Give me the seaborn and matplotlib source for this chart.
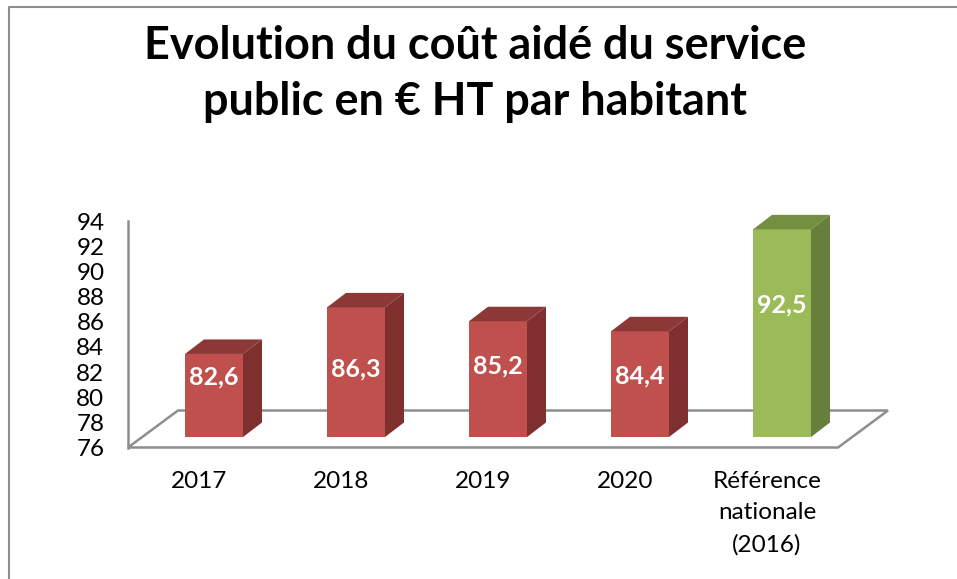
import matplotlib
matplotlib.use("Agg")
import matplotlib.pyplot as plt
import pandas as pd
import seaborn as sns
from matplotlib.patches import Polygon

# data
categories = ["2017", "2018", "2019", "2020", "Référence\nnationale\n(2016)"]
values = [82.6, 86.3, 85.2, 84.4, 92.5]
y_ticks = list(range(76, 96, 2))
title = "Evolution du coût aidé du service\npublic en € HT par habitant"

W, H = 957, 579
RED = ("#C0504D", "#7F2F2E", "#8B3836")
GREEN = ("#9BBB59", "#667F3A", "#758F42")
GREY = "#8E8E8E"

# the value labels do not sit at mid bar in the original, shift in pixels down from the middle
label_shift = [-19, -3, -13, -8, -28]


def px_axes(fig, left, bottom_y, right, top_y):
    # axes position given in image pixels
    return fig.add_axes([left / W, 1 - bottom_y / H, (right - left) / W, (bottom_y - top_y) / H])


sns.set_theme(style="white")
plt.rcParams["font.family"] = ["Lato", "DejaVu Sans"]

fig = plt.figure(figsize=(W / 100, H / 100), dpi=100, facecolor="white")

# frame of the picture, only top and left show
fig.add_artist(plt.Line2D([8.5 / W, 8.5 / W, 1], [0, 1 - 7 / H, 1 - 7 / H], color=GREY, lw=1.5))

# back axes: ticks, labels, wall line and floor
back = px_axes(fig, 128, 447.5, 838, 221)
back.set_xlim(-0.5, 4.5)
back.set_ylim(76, 94)
back.set_xticks(range(len(categories)), categories, linespacing=1.61)
back.set_yticks(y_ticks)
back.tick_params(axis="x", length=0, pad=17, labelsize=17.5, colors="black")
back.tick_params(axis="y", length=0, pad=17, labelsize=17.5, colors="black")
sns.despine(ax=back, top=True, right=True, bottom=True, left=False)
back.spines["left"].set_color(GREY)
back.spines["left"].set_linewidth(1.8)

px_x = 5 / 710
px_y = 18 / 226.5
floor_dx = 50 * px_x
floor_dy = 37 * px_y
back.add_patch(Polygon([(-0.5, 76), (4.5, 76), (4.5 + floor_dx, 76 + floor_dy), (-0.5 + floor_dx, 76 + floor_dy)],
                       closed=True, fill=False, edgecolor=GREY, lw=1.8, clip_on=False, joinstyle="miter"))

# front axes: same scales, shifted to the front of the floor
ax = px_axes(fig, 143, 437, 853, 210.5)
ax.patch.set_alpha(0)
df = pd.DataFrame({"cat": categories, "val": values})
colors = [RED[0]] * 4 + [GREEN[0]]
sns.barplot(data=df, x="cat", y="val", hue="cat", palette=colors, legend=False, width=58 / 142, saturation=1,
            linewidth=0, ax=ax)
ax.set_xlim(-0.5, 4.5)
ax.set_ylim(76, 94)
ax.axis("off")

dx = 19 * px_x
dy = 14.5 * px_y
for i, (bar, val) in enumerate(zip(ax.patches, values)):
    shades = GREEN if i == 4 else RED
    x0 = bar.get_x()
    x1 = x0 + bar.get_width()
    # side and top faces follow the bar
    ax.add_patch(Polygon([(x1, 76), (x1 + dx, 76 + dy), (x1 + dx, val + dy), (x1, val)],
                         closed=True, facecolor=shades[1], edgecolor="none", clip_on=False))
    ax.add_patch(Polygon([(x0, val), (x0 + dx, val + dy), (x1 + dx, val + dy), (x1, val)],
                         closed=True, facecolor=shades[2], edgecolor="none", clip_on=False))
    label = f"{val:.1f}".replace(".", ",")
    ax.text(i, (76 + val) / 2 - label_shift[i] * px_y, label, color="white", fontsize=18, fontweight="bold",
            ha="center", va="center")

fig.text(475 / W, 1 - 74 / H, title, fontsize=32.4, fontweight="bold", color="black",
         ha="center", va="center", linespacing=1.43)

fig.savefig("out.png", dpi=100)
